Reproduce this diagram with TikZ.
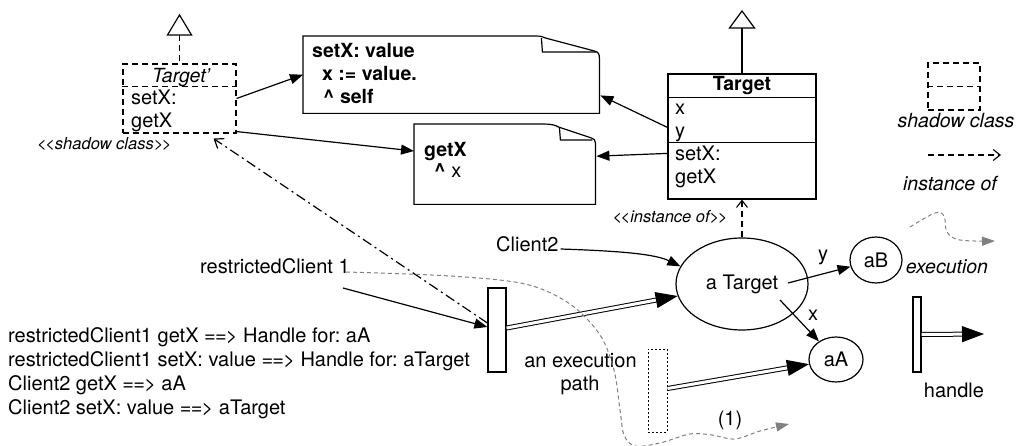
\documentclass[tikz,border=0pt]{standalone}
\usepackage{fontspec}
\setmainfont{TeX Gyre Heros}
\usetikzlibrary{arrows.meta,shapes.geometric,calc}
\newcommand{\llt}{<\kern-1.5pt<}
\newcommand{\ggt}{>\kern-1.5pt>}
\newcommand{\yields}{=\kern-0.8pt=\kern-0.8pt>}
\begin{document}
\frenchspacing
\begin{tikzpicture}[x=1pt,y=-1pt,
  txt/.style={inner sep=0pt,font=\fontsize{20}{23}\selectfont},
  btxt/.style={inner sep=0pt,font=\fontsize{19.5}{23}\selectfont\bfseries},
  itxt/.style={inner sep=0pt,font=\fontsize{19.5}{23}\selectfont\itshape},
  stxt/.style={inner sep=0pt,font=\fontsize{16.5}{19}\selectfont\itshape},
  ln/.style={line width=1.2pt},
  dsh/.style={line width=1.1pt,dash pattern=on 6pt off 4pt},
  arr/.style={ln,-{Triangle[length=13pt,width=10pt]}},
  dbl/.style={double,double distance=3pt,line width=1pt,-{Triangle[length=22pt,width=16pt]}},
  inst/.style={dsh,-{Straight Barb[length=7pt,width=11pt]}},
  dashdot/.style={ln,dash pattern=on 10pt off 4pt on 2pt off 4pt,-{Straight Barb[length=8pt,width=12pt]}},
  exec/.style={line width=1pt,gray,dash pattern=on 4pt off 3pt,-{Triangle[length=13pt,width=9pt,fill=gray]}},
  classbox/.style={draw,ln,inner sep=0pt},
  obj/.style={draw,ln,ellipse,inner sep=0pt,font=\fontsize{20}{23}\selectfont},
  handlebox/.style={draw,ln,inner sep=0pt}
]
\useasboundingbox (0,0) rectangle (1017,446);

% ---------- Target' shadow class ----------
\node[draw,dsh,minimum width=113pt,minimum height=69pt,inner sep=0pt] (Tp) at (179.5,98.5) {};
\draw[dsh] ($(Tp.north west)+(0,23)$) -- ($(Tp.north east)+(0,23)$);
\node[itxt,anchor=base] (tpname) at (181,83) {Target'};
\node[txt,anchor=base west] (tpset) at (131,105) {setX:};
\node[txt,anchor=base west] (tpget) at (131,128) {getX};
\node[stxt,anchor=base west] (shadowlbl) at (37,150) {\llt shadow class\ggt};
\coordinate (tpapex) at (179.5,15);
\draw[ln] (tpapex) -- ++(-12,20) -- ++(24,0) -- cycle;
\draw[dsh] ($(tpapex)+(0,20)$) -- (Tp.north);

% ---------- Notes ----------
\node[minimum width=296pt,minimum height=77pt,inner sep=0pt,anchor=north west] (n1) at (303,36) {};
\draw[ln] (n1.north west) -- ($(n1.north east)+(-64,0)$)
  .. controls ($(n1.north east)+(-58,0)$) and ($(n1.north east)+(-56,1)$) .. ($(n1.north east)+(-54,2)$)
  -- ($(n1.north east)+(-5,15)$)
  .. controls ($(n1.north east)+(-1,16)$) and ($(n1.north east)+(0,18)$) .. ($(n1.north east)+(0,22)$)
  -- (n1.south east) -- (n1.south west) -- cycle;
\draw[ln] ($(n1.north east)+(-58,2)$) -- ($(n1.north east)+(-57,16)$) -- ($(n1.north east)+(-3,16)$);
\node[btxt,anchor=base west] (n1a) at (312,58) {setX: value};
\node[btxt,anchor=base west] (n1b) at (322,81) {x := value.};
\node[btxt,anchor=base west] (n1c) at (323,104) {\textasciicircum{} self};

\node[minimum width=181pt,minimum height=80pt,inner sep=0pt,anchor=north west] (n2) at (414,124) {};
\draw[ln] (n2.north west) -- ($(n2.north east)+(-52,0)$)
  .. controls ($(n2.north east)+(-45,0)$) and ($(n2.north east)+(-40,1)$) .. ($(n2.north east)+(-37,3)$)
  -- ($(n2.north east)+(-4,14)$)
  .. controls ($(n2.north east)+(-1,15)$) and ($(n2.north east)+(0,16)$) .. ($(n2.north east)+(0,19)$)
  -- (n2.south east) -- (n2.south west) -- cycle;
\draw[ln] ($(n2.north east)+(-36,3)$) -- ($(n2.north east)+(-35,16)$) -- ($(n2.north east)+(-3,16)$);
\node[btxt,anchor=base west] (n2a) at (424,157) {getX};
\node[txt,anchor=base west] (n2b) at (434,178) {\textbf{\textasciicircum} x};

% ---------- Target class ----------
\node[classbox,minimum width=148pt,minimum height=125pt] (T) at (742,136.5) {};
\draw[ln] ($(T.north west)+(0,24)$) -- ($(T.north east)+(0,24)$);
\draw[ln] ($(T.north west)+(0,69)$) -- ($(T.north east)+(0,69)$);
\node[btxt,anchor=base] (tname) at (742,91) {Target};
\node[txt,anchor=base west] (tx) at (675,115) {x};
\node[txt,anchor=base west] (ty) at (675,138) {y};
\node[txt,anchor=base west] (tset) at (675,161) {setX:};
\node[txt,anchor=base west] (tget) at (675,184) {getX};
\coordinate (tapex) at (742,11);
\draw[ln] (tapex) -- ++(-12.5,17) -- ++(25,0) -- cycle;
\draw[ln] ($(tapex)+(0,17)$) -- (T.north);
\node[stxt,anchor=base] (instlbl) at (670,223) {\llt instance of\ggt};

% ---------- arrows to notes ----------
\draw[arr] (Tp.east) -- (n1.west);
\draw[arr] ($(Tp.south east)+(0,-2)$) -- ($(n2.north west)+(0,27)$);
\draw[arr] ($(T.north west)+(0,54)$) -- ($(n1.south east)+(1,-18)$);
\draw[arr] ($(T.north west)+(0,80)$) -- ($(n2.east)+(1,-8)$);

% ---------- objects ----------
\node[obj,minimum width=132pt,minimum height=92pt] (E) at (742,284) {a Target};
\node[obj,minimum width=52pt,minimum height=46pt] (aB) at (876,260) {aB};
\node[obj,minimum width=54pt,minimum height=45pt] (aA) at (836,359.5) {aA};
\draw[inst] (E.north) -- (T.south);
\draw[arr] ($(E.center)+(46,-1)$) -- (aB);
\node[txt,anchor=base] (ylbl) at (823,261) {y};
\draw[arr] ($(E.center)+(38,16)$) -- (aA);
\node[txt,anchor=base] (xlbl) at (813,320) {x};

\node[txt,anchor=base west] (c2) at (496,252) {Client2};
\draw[arr] ($(c2.base east)+(2,-3)$) .. controls (620,251) and (655,254) .. (E.164);

% ---------- restricted client & handle ----------
\node[txt,anchor=base west] (rc) at (200,273) {restrictedClient 1};
\node[handlebox,minimum width=18pt,minimum height=84pt] (H1) at (497,330) {};
\coordinate (rcin) at (343,288);
\draw[arr] (rcin) -- ($(H1.west)+(0,-3)$);
\draw[dashdot] ($(H1.west)+(0,-7)$) -- ($(Tp.south east)+(-23,5)$);
\draw[dbl] ($(H1.east)+(0,-2)$) -- (E);

\node[draw,line width=1pt,dash pattern=on 2pt off 2pt,minimum width=19pt,minimum height=83pt,inner sep=0pt] (D) at (657.5,390.5) {};
\draw[dbl] ($(D.east)+(0,-2)$) -- (aA);
\node[txt,anchor=base] (ep1) at (580.5,367) {an execution};
\node[txt,anchor=base] (ep2) at (580,390) {path};
\node[txt,anchor=base] (one) at (730,425) {(1)};

\coordinate (exend) at (789,424);
\draw[exec] plot[smooth,tension=0.55] coordinates {(346,272) (450,276) (525,284) (570,304) (600,335) (614,370) (620,410) (624,435) (635,446) (660,443) (690,434) (712,435) (735,439) (760,431) (exend)};

% ---------- left text block ----------
\node[txt,anchor=base west] (l1) at (8,342) {restrictedClient1 getX \yields{} Handle for: aA};
\node[txt,anchor=base west] (l2) at (8,366) {restrictedClient1 setX: value \yields{} Handle for: aTarget};
\node[txt,anchor=base west] (l3) at (8,390) {Client2 getX \yields{} aA};
\node[txt,anchor=base west] (l4) at (8,414) {Client2 setX: value \yields{} aTarget};

% ---------- legend ----------
\node[draw,dsh,minimum width=52pt,minimum height=47pt,inner sep=0pt] (LB) at (954,86.5) {};
\draw[dsh] (LB.west) -- (LB.east);
\node[itxt,anchor=base] (lsc) at (956,128) {shadow class};
\coordinate (li1) at (928,155);
\coordinate (li2) at (1001,155);
\draw[inst] (li1) -- (li2);
\node[itxt,anchor=base] (lio) at (950,191) {instance of};
\coordinate (lx2) at (995,241);
\draw[exec] plot[smooth,tension=0.6] coordinates {(910,227) (935,213) (944,216) (947,232) (960,240) (lx2)};
\node[itxt,anchor=base] (lex) at (947,273) {execution};
\node[handlebox,minimum width=8pt,minimum height=75pt] (HL) at (917,334.5) {};
\coordinate (hlend) at (984,334);
\draw[dbl] (HL.east) -- (hlend);
\node[txt,anchor=base] (lh) at (954,397) {handle};
\end{tikzpicture}
\end{document}
